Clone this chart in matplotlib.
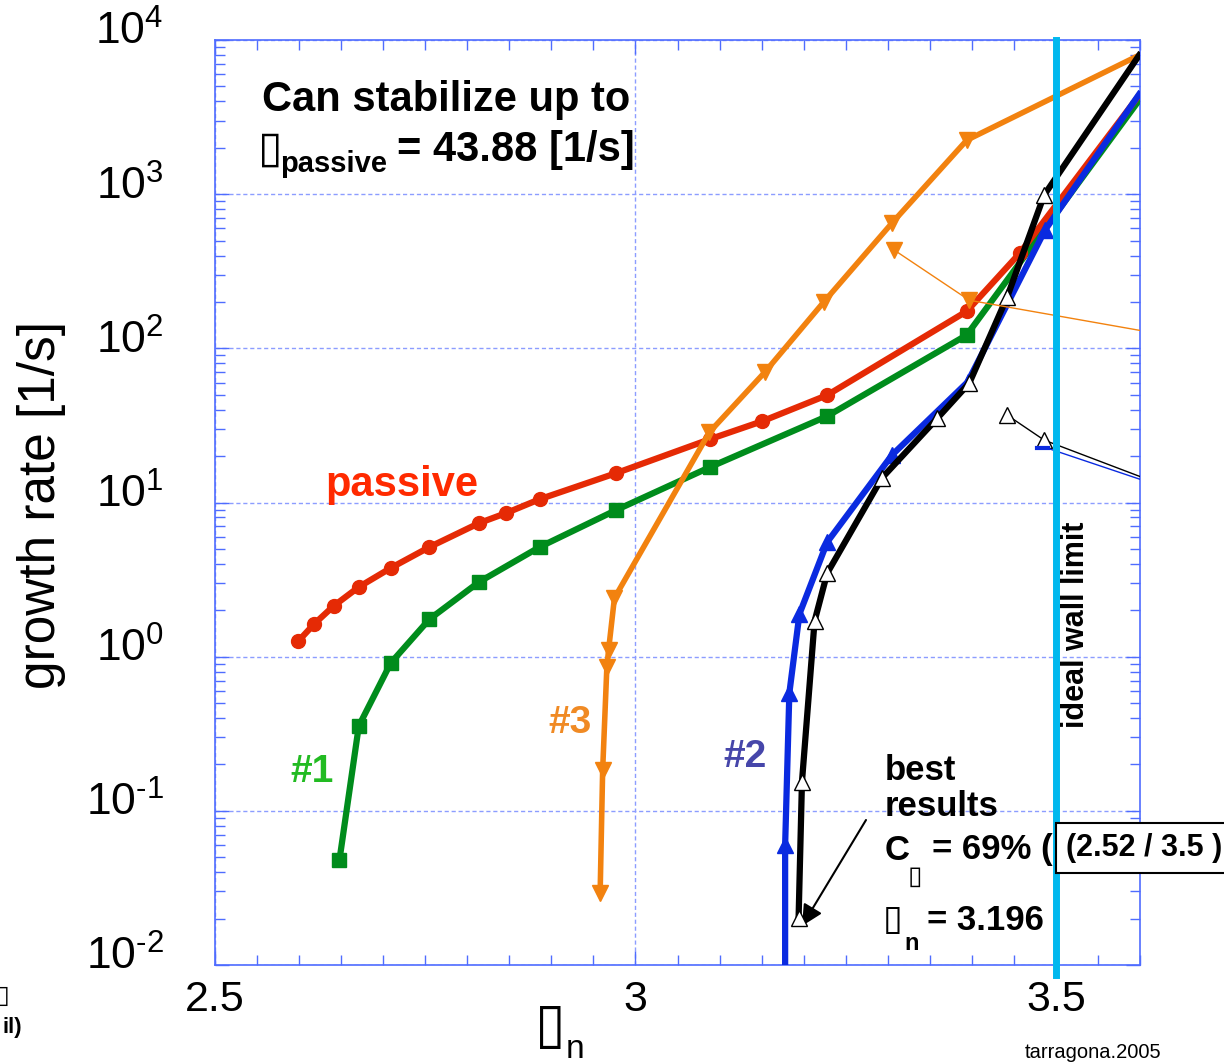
import math
import matplotlib
matplotlib.use('Agg')
import matplotlib.pyplot as plt
import matplotlib.ticker as mticker
import matplotlib.transforms as mtransforms

plt.rcParams['font.family'] = ['Liberation Sans', 'DejaVu Sans']
plt.rcParams['mathtext.fontset'] = 'custom'
plt.rcParams['mathtext.rm'] = 'Liberation Sans'
plt.rcParams['mathtext.it'] = 'Liberation Sans:italic'
plt.rcParams['mathtext.bf'] = 'Liberation Sans:bold'
plt.rcParams['axes.unicode_minus'] = False

# ---------------- data ----------------
passive_x = [2.599, 2.618, 2.641, 2.671, 2.709, 2.755, 2.814, 2.846, 2.886, 2.977,
             3.089, 3.151, 3.228, 3.394, 3.457, 3.599]
passive_y = [1.26, 1.63, 2.13, 2.83, 3.76, 5.14, 7.35, 8.53, 10.5, 15.5,
             25.8, 33.7, 49.7, 174, 414, 4385]

c1_x = [2.648, 2.671, 2.709, 2.755, 2.814, 2.886, 2.977, 3.089, 3.228, 3.394, 3.599]
c1_y = [0.048, 0.355, 0.91, 1.75, 3.05, 5.14, 8.93, 17.0, 36.3, 122, 4070]

c3_x = [2.958, 2.961, 2.966, 2.968, 2.975, 3.088, 3.154, 3.224, 3.305, 3.394, 3.599]
c3_y = [0.0293, 0.184, 0.857, 1.10, 2.40, 28.6, 70.2, 200, 649, 2240, 7970]

c2_x = [3.178, 3.178, 3.183, 3.195, 3.228, 3.305, 3.395, 3.487, 3.599]
c2_y = [0.001, 0.060, 0.58, 1.89, 5.53, 20.3, 60.4, 584, 4450]

best_x = [3.194, 3.198, 3.213, 3.228, 3.293, 3.359, 3.397, 3.442, 3.486, 3.599]
best_y = [0.0202, 0.154, 1.70, 3.48, 14.4, 35.2, 59.5, 215, 986, 7970]

# thin leftover legend-like strokes
thin_or_x = [3.308, 3.397, 3.62]
thin_or_y = [433, 205, 125]
thin_bk_x = [3.442, 3.486, 3.62]
thin_bk_y = [36.9, 25.4, 13.4]
thin_bl_x = [3.477, 3.49, 3.62]
thin_bl_y = [22.5, 22.5, 13.0]

x_ticks = [2.5, 3.0, 3.5]
x_ticklabels = ['2.5', '3', '3.5']
wall_x = 3.5

# ---------------- figure ----------------
W, H = 1224, 1064
fig = plt.figure(figsize=(W / 100, H / 100), dpi=100)
ax = fig.add_axes([215 / W, 1 - 965 / H, (1140 - 215) / W, (965 - 40) / H])
ax.set_yscale('log')
ax.set_xlim(2.5, 3.6)
ax.set_ylim(1e-2, 1e4)

def fp(x, y):
    return (x / W, 1 - y / H)

RED = '#e52a05'
GREEN = '#008c1c'
ORANGE = '#f2820f'
BLUE = '#0a2ae0'
CYAN = '#00b8ee'

ax.plot(c1_x, c1_y, color=GREEN, lw=4.5, marker='s', ms=10,
        markevery=list(range(len(c1_x) - 1)), zorder=3)
ax.plot(passive_x, passive_y, color=RED, lw=4.5, marker='o', ms=10,
        markevery=list(range(len(passive_x) - 1)), zorder=4)
ax.plot(c3_x, c3_y, color=ORANGE, lw=4, marker='v', ms=12,
        markevery=list(range(len(c3_x) - 1)), zorder=5)
ax.plot(c2_x, c2_y, color=BLUE, lw=4.5, marker='^', ms=12,
        markevery=list(range(1, len(c2_x) - 1)), zorder=6)
ax.plot(best_x, best_y, color='black', lw=4.5, zorder=7)
ax.plot(best_x[:-1], best_y[:-1], ls='none', marker='^', ms=11,
        mfc='white', mec='black', mew=1, zorder=8)

ax.plot(thin_or_x, thin_or_y, color=ORANGE, lw=1, zorder=9)
ax.plot(thin_or_x[:2], thin_or_y[:2], ls='none', marker='v', ms=12,
        color=ORANGE, zorder=9)
ax.plot(thin_bk_x, thin_bk_y, color='black', lw=1, zorder=9)
ax.plot(thin_bk_x[:2], thin_bk_y[:2], ls='none', marker='^', ms=11,
        mfc='white', mec='black', mew=1, zorder=9)
ax.plot(thin_bl_x[:2], thin_bl_y[:2], color=BLUE, lw=3, zorder=9)
ax.plot(thin_bl_x[1:], thin_bl_y[1:], color=BLUE, lw=1, zorder=9)

ax.plot([wall_x, wall_x], [1e4, 0.0086], color=CYAN, lw=5, zorder=10,
        clip_on=False)

# ---------------- axes styling ----------------
SPC = '#4f6cff'
for s in ax.spines.values():
    s.set_color(SPC)
    s.set_linewidth(1.2)


def decade_label(v, pos):
    e = int(round(math.log10(v)))
    if e < 0:
        return r'$10^{\text{-%d}}$' % (-e)
    return r'$10^{%d}$' % e


ax.xaxis.set_major_locator(mticker.FixedLocator(x_ticks))
ax.xaxis.set_major_formatter(mticker.FixedFormatter(x_ticklabels))
ax.xaxis.set_minor_locator(mticker.MultipleLocator(0.05))
ax.yaxis.set_major_locator(mticker.LogLocator(base=10, numticks=20))
ax.yaxis.set_major_formatter(mticker.FuncFormatter(decade_label))
ax.yaxis.set_minor_locator(mticker.LogLocator(base=10, subs=range(2, 10), numticks=20))
ax.yaxis.set_minor_formatter(mticker.NullFormatter())
ax.tick_params(which='both', direction='in', top=True, right=True, color=SPC, width=1)
ax.tick_params(which='major', length=10)
ax.tick_params(which='minor', length=7)
ax.tick_params(axis='x', labelsize=31, pad=11)
ax.tick_params(axis='y', labelsize=32, pad=37)
ax.grid(True, which='major', color='#8c9dff', ls=(0, (3, 2)), lw=1)

# raise the y tick labels a little, as in the reference
shift = mtransforms.ScaledTranslation(0, 12 / 100, fig.dpi_scale_trans)
for t in ax.yaxis.get_major_ticks():
    t.label1.set_transform(t.label1.get_transform() + shift)

# ---------------- texts ----------------
BOX = '\u25af'
fig.text(*fp(262, 100), 'Can stabilize up to', fontsize=30, fontweight='bold',
         ha='left', va='center')
fig.text(*fp(258, 150), BOX, fontsize=32, ha='left', va='center')
fig.text(*fp(280, 164), 'passive', fontsize=21, fontweight='bold', ha='left', va='center')
fig.text(*fp(397, 150), '= 43.88 [1/s]', fontsize=30, fontweight='bold',
         ha='left', va='center')

fig.text(*fp(325, 485), 'passive', fontsize=30, fontweight='bold', color='#ff2a00',
         ha='left', va='center')
fig.text(*fp(290, 772), '#1', fontsize=28, fontweight='bold', color='#22bb22',
         ha='left', va='center')
fig.text(*fp(548, 723), '#3', fontsize=28, fontweight='bold', color='#f08a24',
         ha='left', va='center')
fig.text(*fp(723, 757), '#2', fontsize=28, fontweight='bold', color='#4646aa',
         ha='left', va='center')

fig.text(*fp(885, 771), 'best', fontsize=25, fontweight='bold', ha='left', va='center')
fig.text(*fp(885, 806), 'results', fontsize=25, fontweight='bold', ha='left', va='center')
fig.text(*fp(885, 850), 'C', fontsize=25, fontweight='bold', ha='left', va='center')
fig.text(*fp(908, 877), BOX, fontsize=19, ha='left', va='center')
fig.text(*fp(932, 850), '= 69% (', fontsize=25, fontweight='bold', ha='left', va='center')
fig.text(*fp(1066, 848), '(2.52 / 3.5 )', fontsize=22, fontweight='bold',
         ha='left', va='center',
         bbox=dict(boxstyle='square,pad=0.33', fc='white', ec='black', lw=1.5),
         zorder=20)
fig.text(*fp(883, 920), BOX, fontsize=26, ha='left', va='center')
fig.text(*fp(904, 943), 'n', fontsize=17, fontweight='bold', ha='left', va='center')
fig.text(*fp(927, 920), '= 3.196', fontsize=25, fontweight='bold', ha='left', va='center')

fig.text(*fp(1076, 625), 'ideal wall limit', fontsize=22, fontweight='bold',
         rotation=90, ha='center', va='center')

ax.annotate('', xy=fp(802, 926), xytext=fp(866, 820),
            xycoords='figure fraction', textcoords='figure fraction',
            arrowprops=dict(arrowstyle='-|>', color='black', lw=1.5,
                            mutation_scale=32, shrinkA=0, shrinkB=0))

fig.text(*fp(42, 505), 'growth rate [1/s]', fontsize=37, rotation=90,
         ha='center', va='center')
fig.text(*fp(550, 1028), BOX, fontsize=40, ha='center', va='center')
fig.text(*fp(575, 1050), 'n', fontsize=24, ha='center', va='center')
fig.text(*fp(1025, 1053), 'tarragona.2005', fontsize=14.5, ha='left', va='center')
fig.text(*fp(10, 996), BOX, fontsize=18, ha='right', va='center')
fig.text(*fp(22, 1027), 'il)', fontsize=16, fontweight='bold', ha='right', va='center')

fig.savefig('out.png', dpi=100)
